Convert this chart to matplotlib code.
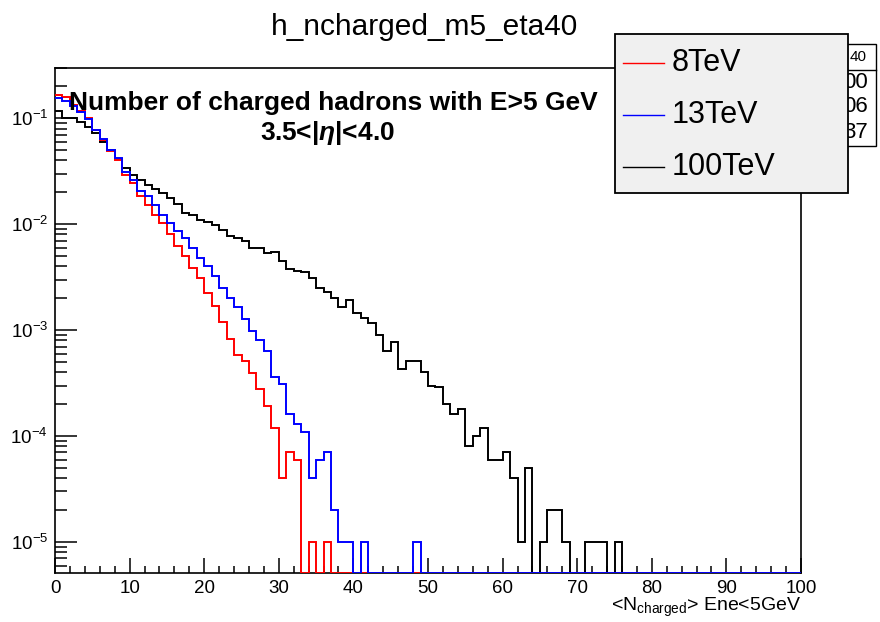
import numpy as np
import matplotlib
matplotlib.use("Agg")
import matplotlib.pyplot as plt
from matplotlib.patches import Rectangle
from matplotlib.lines import Line2D
from matplotlib.ticker import LogLocator, NullFormatter, MultipleLocator

plt.rcParams['font.family'] = ['Liberation Sans', 'DejaVu Sans']
plt.rcParams['mathtext.fontset'] = 'custom'
plt.rcParams['mathtext.rm'] = 'Liberation Sans'
plt.rcParams['mathtext.it'] = 'Liberation Sans:italic:bold'
plt.rcParams['mathtext.bf'] = 'Liberation Sans:bold'

# histogram: 100 bins of width 1 from 0 to 100
bin_edges = np.arange(0, 101, 1)

labels = ['8TeV', '13TeV', '100TeV']
colors = ['red', 'blue', 'black']

# bin contents (normalised), zero = empty bin
h_8tev = [0.167, 0.158, 0.134, 0.116, 0.100, 0.078, 0.063, 0.0487, 0.0406, 0.0290,
          0.0245, 0.0183, 0.0153, 0.0123, 0.0103, 0.0080, 0.00627, 0.00497, 0.00386, 0.00310,
          0.00224, 0.00168, 0.00119, 0.000826, 0.000587, 0.000515, 0.000390, 0.000279, 0.000191, 0.000119,
          0.00004, 0.00007, 0.00006, 0, 0.00001, 0, 0.00001]
h_13tev = [0.155, 0.145, 0.130, 0.115, 0.098, 0.078, 0.064, 0.050, 0.042, 0.031,
           0.0263, 0.0204, 0.0183, 0.0153, 0.0123, 0.0103, 0.00855, 0.00741, 0.00596, 0.00480,
           0.00400, 0.00322, 0.00250, 0.00201, 0.00166, 0.00126, 0.000975, 0.000802, 0.00063, 0.00036,
           0.00031, 0.00016, 0.00013, 0.00011, 0.00004, 0.00006, 0.00007, 0.00002, 0.00001, 0.00001,
           0, 0.00001, 0, 0, 0, 0, 0, 0, 0.00001]
h_100tev = [0.116, 0.100, 0.100, 0.092, 0.083, 0.072, 0.060, 0.050, 0.041, 0.034,
            0.029, 0.0262, 0.0235, 0.0215, 0.0195, 0.0178, 0.0155, 0.0128, 0.0123, 0.0109,
            0.0106, 0.0099, 0.0089, 0.0077, 0.0074, 0.0069, 0.0060, 0.0059, 0.0054, 0.0055,
            0.0045, 0.0038, 0.0036, 0.0035, 0.0031, 0.0025, 0.00228, 0.00201, 0.00164, 0.00191,
            0.00145, 0.00129, 0.00118, 0.00090, 0.00063, 0.00077, 0.00043, 0.00051, 0.00051, 0.00040,
            0.00030, 0.00029, 0.00020, 0.00016, 0.00018, 0.00008, 0.00010, 0.00012, 0.00006, 0.00006,
            0.00007, 0.00004, 0.00001, 0.00005, 0, 0.00001, 0.00002, 0.00002, 0.00001, 0,
            0, 0.00001, 0.00001, 0.00001, 0, 0.00001]

# stats box behind the legend: only these right-hand ends are visible
stats_title = '40'
stats_rows = ['00', '06', '37']

y_min, y_max = 5.1e-6, 0.30

W, H = 880, 622
fig = plt.figure(figsize=(W / 100, H / 100), dpi=100)
ax = fig.add_axes([55 / W, 1 - 573 / H, 746 / W, 505.3 / H])


def padded(vals):
    # empty bins are drawn along the bottom of the frame like ROOT does on log scale
    v = np.zeros(len(bin_edges) - 1)
    v[:len(vals)] = vals
    v[v <= 0] = y_min
    return v


# black first so the blue empty-bin line stays on top along the axis
for vals, c, z in [(h_100tev, 'black', 2), (h_8tev, 'red', 3), (h_13tev, 'blue', 4)]:
    ax.stairs(padded(vals), bin_edges, baseline=None, color=c, lw=1.4, zorder=z)

ax.set_yscale('log')
ax.set_xlim(0, 100)
ax.set_ylim(y_min, y_max)

ax.xaxis.set_major_locator(MultipleLocator(10))
ax.xaxis.set_minor_locator(MultipleLocator(2))
ax.yaxis.set_major_locator(LogLocator(base=10, numticks=20))
ax.yaxis.set_minor_locator(LogLocator(base=10, subs=np.arange(2, 10), numticks=20))
ax.yaxis.set_minor_formatter(NullFormatter())

ax.tick_params(which='both', direction='in', top=False, right=False, width=1.1, colors='black')
ax.tick_params(axis='x', which='major', length=10.5, pad=5, labelsize=13.5)
ax.tick_params(axis='x', which='minor', length=5.2)
ax.tick_params(axis='y', which='major', length=16, pad=5, labelsize=13.5)
ax.tick_params(axis='y', which='minor', length=8.5)
for s in ax.spines.values():
    s.set_linewidth(1.2)

ax.set_xlabel(r'<N$_{\mathrm{charged}}$> Ene<5GeV', fontsize=14, loc='right')
ax.xaxis.set_label_coords(1.0, -0.046)

# title and annotation
fig.text(424 / W, 1 - 27 / H, 'h_ncharged_m5_eta40', ha='center', va='center', fontsize=21.5)
fig.text(333 / W, 1 - 103 / H, 'Number of charged hadrons with E>5 GeV',
         ha='center', va='center', fontsize=19, fontweight='bold', zorder=10)
fig.text(327 / W, 1 - 133 / H, r'3.5<|$\eta$|<4.0',
         ha='center', va='center', fontsize=19, fontweight='bold', zorder=10)

# stats box
sx0, sx1, sy0, sy1 = 690, 876, 44, 146
fig.add_artist(Rectangle((sx0 / W, 1 - sy1 / H), (sx1 - sx0) / W, (sy1 - sy0) / H,
                         transform=fig.transFigure, facecolor='white', edgecolor='black',
                         lw=1.0, zorder=20))
fig.add_artist(Line2D([sx0 / W, sx1 / W], [1 - 70 / H, 1 - 70 / H],
                      transform=fig.transFigure, color='black', lw=1.0, zorder=21))
fig.text(867 / W, 1 - 57 / H, stats_title, ha='right', va='center',
         fontsize=11, zorder=22)
for i, val in enumerate(stats_rows):
    yy = 1 - (82 + 25 * i) / H
    fig.text(868 / W, yy, val, ha='right', va='center', fontsize=16, zorder=22)

# legend box drawn by hand, ROOT TLegend style
lx0, lx1, ly0, ly1 = 615, 848, 34, 193
fig.add_artist(Rectangle((lx0 / W, 1 - ly1 / H), (lx1 - lx0) / W, (ly1 - ly0) / H,
                         transform=fig.transFigure, facecolor='#f0f0f0', edgecolor='black',
                         lw=1.3, zorder=30))
for i, (lab, c) in enumerate(zip(labels, colors)):
    yy = 1 - (63 + 52 * i) / H
    fig.add_artist(Line2D([623 / W, 664 / W], [yy, yy], transform=fig.transFigure,
                          color=c, lw=1.0, zorder=31))
    fig.text(672 / W, yy, lab, ha='left', va='center', fontsize=22, zorder=32)

fig.savefig('out.png', dpi=100)
